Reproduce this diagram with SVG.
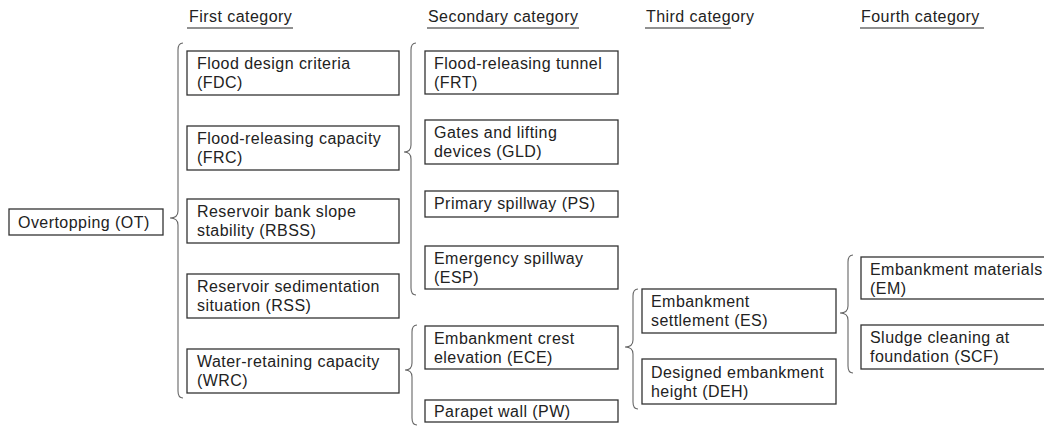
<svg xmlns="http://www.w3.org/2000/svg" width="1044" height="427" viewBox="0 0 1044 427">
  <style>
    text { font-family: "Liberation Sans", Arial, sans-serif; font-size: 16px; fill: #222; letter-spacing: 0.45px; }
    .box { fill: #fff; stroke: #333; stroke-width: 1.3; }
    .brace { fill: none; stroke: #666; stroke-width: 1.1; }
    .rule { stroke: #222; stroke-width: 1.2; }
  </style>
  <rect width="1044" height="427" fill="#fff"/>

  <!-- column headings -->
  <g id="headings">
    <text x="189" y="22">First category</text>
    <line class="rule" x1="187" y1="28" x2="293" y2="28"/>
    <text x="428" y="22">Secondary category</text>
    <line class="rule" x1="427" y1="28" x2="579" y2="28"/>
    <text x="646" y="22">Third category</text>
    <line class="rule" x1="645" y1="28" x2="731" y2="28"/>
    <text x="861" y="22">Fourth category</text>
    <line class="rule" x1="860" y1="28" x2="984" y2="28"/>
  </g>

  <!-- braces grouping each level -->
  <g id="connectors">
    <path class="brace" d="M183 43 Q178 43 178 50 L178 211 Q178 218 170 218 Q178 218 178 225 L178 391 Q178 398 183 398"/>
    <path class="brace" d="M416 43 Q411 43 411 50 L411 145 Q411 152 404 152 Q411 152 411 159 L411 288 Q411 295 416 295"/>
    <path class="brace" d="M417 325 Q412 325 412 332 L412 363 Q412 370 405 370 Q412 370 412 377 L412 418 Q412 425 417 425"/>
    <path class="brace" d="M638 289 Q633 289 633 296 L633 340 Q633 347 625 347 Q633 347 633 354 L633 402 Q633 409 638 409"/>
    <path class="brace" d="M853 255 Q848 255 848 262 L848 306 Q848 313 840 313 Q848 313 848 320 L848 366 Q848 373 853 373"/>
  </g>

  <g id="OT"><rect class="box" x="9" y="209" width="154" height="26"/><text x="18" y="228">Overtopping (OT)</text></g>

  <g id="FDC"><rect class="box" x="187" y="51" width="212" height="44"/><text x="197" y="69">Flood design criteria</text><text x="197" y="88">(FDC)</text></g>
  <g id="FRC"><rect class="box" x="187" y="126" width="212" height="44"/><text x="197" y="144">Flood-releasing capacity</text><text x="197" y="163">(FRC)</text></g>
  <g id="RBSS"><rect class="box" x="187" y="199" width="212" height="44"/><text x="197" y="217">Reservoir bank slope</text><text x="197" y="236">stability (RBSS)</text></g>
  <g id="RSS"><rect class="box" x="187" y="274" width="212" height="44"/><text x="197" y="292">Reservoir sedimentation</text><text x="197" y="311">situation (RSS)</text></g>
  <g id="WRC"><rect class="box" x="187" y="349" width="212" height="44"/><text x="197" y="367">Water-retaining capacity</text><text x="197" y="386">(WRC)</text></g>

  <g id="FRT"><rect class="box" x="425" y="51" width="193" height="43"/><text x="434" y="69">Flood-releasing tunnel</text><text x="434" y="88">(FRT)</text></g>
  <g id="GLD"><rect class="box" x="425" y="120" width="193" height="44"/><text x="434" y="138">Gates and lifting</text><text x="434" y="157">devices (GLD)</text></g>
  <g id="PS"><rect class="box" x="425" y="191" width="193" height="26"/><text x="434" y="209">Primary spillway (PS)</text></g>
  <g id="ESP"><rect class="box" x="425" y="246" width="193" height="43"/><text x="434" y="264">Emergency spillway</text><text x="434" y="283">(ESP)</text></g>
  <g id="ECE"><rect class="box" x="425" y="326" width="193" height="43"/><text x="434" y="344">Embankment crest</text><text x="434" y="363">elevation (ECE)</text></g>
  <g id="PW"><rect class="box" x="425" y="400" width="193" height="22"/><text x="434" y="417">Parapet wall (PW)</text></g>

  <g id="ES"><rect class="box" x="642" y="289" width="194" height="44"/><text x="651" y="307">Embankment</text><text x="651" y="326">settlement (ES)</text></g>
  <g id="DEH"><rect class="box" x="642" y="359" width="194" height="45"/><text x="651" y="378">Designed embankment</text><text x="651" y="397">height (DEH)</text></g>

  <g id="EM"><rect class="box" x="861" y="257" width="200" height="42"/><text x="870" y="275">Embankment materials</text><text x="870" y="294">(EM)</text></g>
  <g id="SCF"><rect class="box" x="861" y="325" width="200" height="44"/><text x="870" y="343">Sludge cleaning at</text><text x="870" y="362">foundation (SCF)</text></g>
</svg>
